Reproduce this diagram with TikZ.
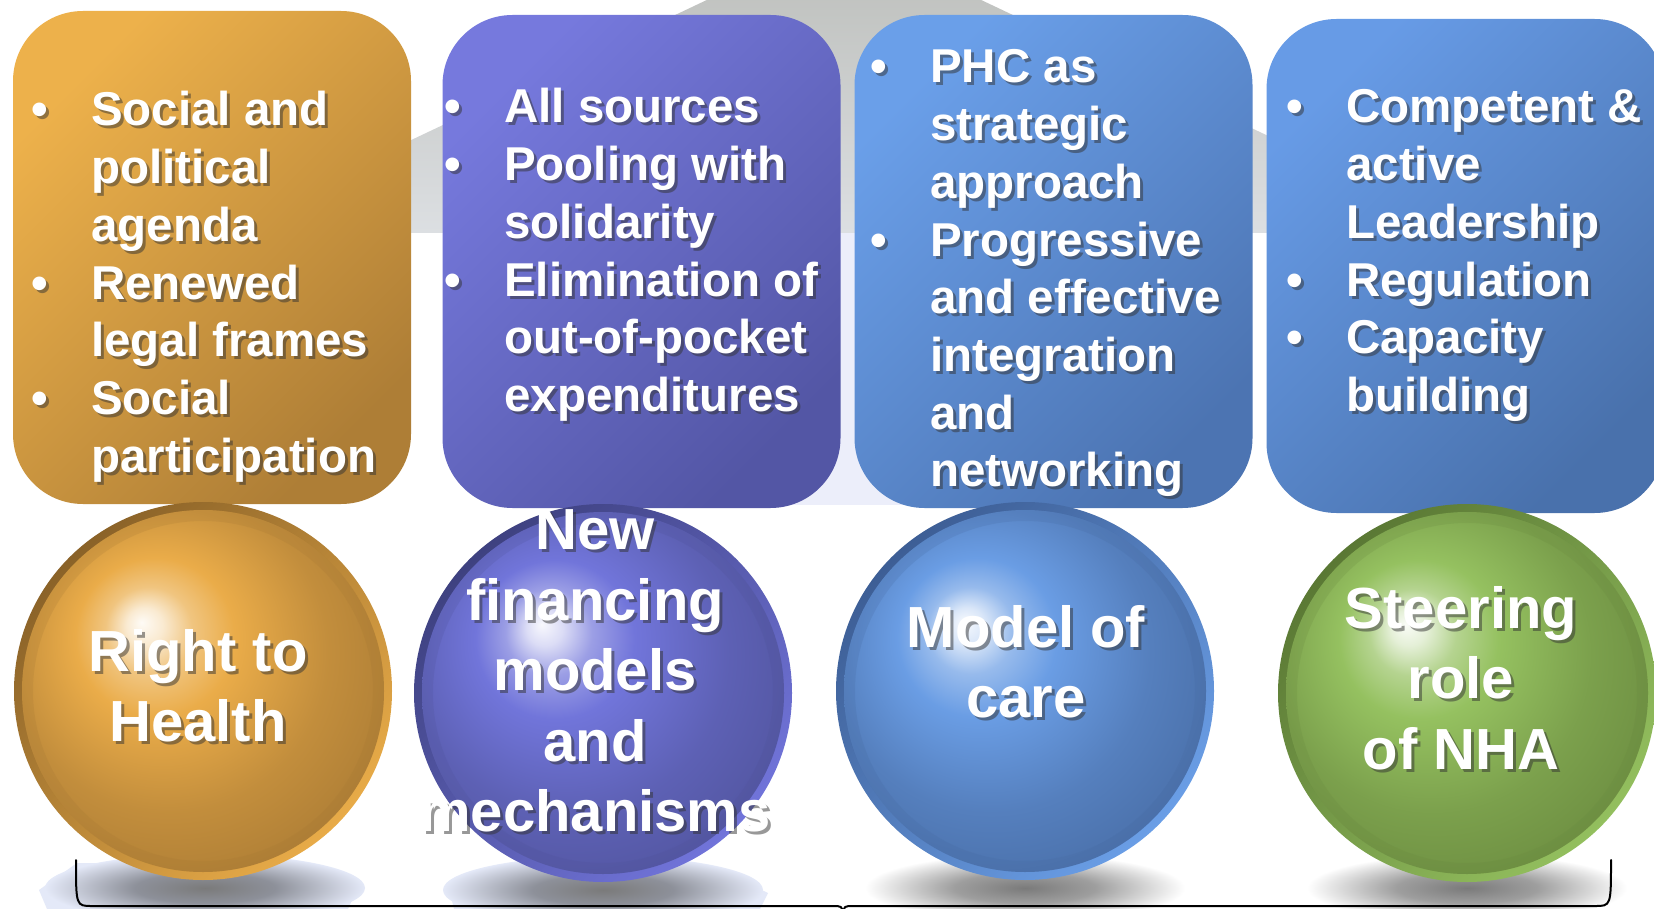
\documentclass[tikz,border=0pt]{standalone}
\usepackage{fontspec}
\setmainfont{Liberation Sans}

\definecolor{roofgrey}{HTML}{BABCB8}
\definecolor{rooflight}{HTML}{DCDFE2}
\definecolor{haze}{HTML}{E4E9F8}
\definecolor{gapblue}{HTML}{ECEEFA}
% panels
\definecolor{orangeA}{HTML}{EDB14B}
\definecolor{orangeB}{HTML}{AE7E36}
\definecolor{purpleA}{HTML}{7679DD}
\definecolor{purpleB}{HTML}{5356A5}
\definecolor{blueA}{HTML}{6A9FE9}
\definecolor{blueB}{HTML}{4C74B2}
\definecolor{skyA}{HTML}{679BE6}
\definecolor{skyB}{HTML}{4971AC}
% balls
\definecolor{orangeRim}{HTML}{8A6228}
\definecolor{orangeRimL}{HTML}{E8AB48}
\definecolor{orangeL}{HTML}{EAAC49}
\definecolor{orangeD}{HTML}{A27532}
\definecolor{purpleRim}{HTML}{3E4180}
\definecolor{purpleRimL}{HTML}{7174DA}
\definecolor{purpleL}{HTML}{7175DA}
\definecolor{purpleD}{HTML}{4D5096}
\definecolor{blueRim}{HTML}{3D5E95}
\definecolor{blueRimL}{HTML}{6A9EE6}
\definecolor{blueL}{HTML}{6A9DE4}
\definecolor{blueD}{HTML}{44679E}
\definecolor{greenRim}{HTML}{5A7834}
\definecolor{greenRimL}{HTML}{93BF5E}
\definecolor{greenL}{HTML}{95C160}
\definecolor{greenD}{HTML}{66853C}

% ball bodies: glow at the upper left, darker to the lower right
\newcommand{\declareball}[3]{%
  \pgfdeclareradialshading{#1}{\pgfpoint{-8.5bp}{9.5bp}}{color(0bp)=(white!95!#2); color(2.5bp)=(white!75!#2); color(6bp)=(white!30!#2); color(11bp)=(#2); color(22bp)=(#2!45!#3); color(37bp)=(#3); color(50bp)=(#3)}}
\declareball{orangeball}{orangeL}{orangeD}
\declareball{purpleball}{purpleL}{purpleD}
\declareball{blueball}{blueL}{blueD}
\declareball{greenball}{greenL}{greenD}
\pgfdeclareradialshading{shadowwhite}{\pgfpointorigin}{color(0bp)=(black!52); color(11bp)=(black!38); color(25bp)=(white); color(50bp)=(white)}
\pgfdeclareradialshading{shadowhaze}{\pgfpointorigin}{color(0bp)=(black!52); color(11bp)=(black!38!haze); color(25bp)=(haze); color(50bp)=(haze)}

\tikzset{
  panel/.style={rounded corners=70pt, minimum width=398pt, minimum height=493pt, inner sep=0pt},
  boxshade/.style 2 args={top color=#1, bottom color=#2, shading angle=45},
  listtxt/.style={anchor=base west, inner sep=0pt, font=\fontsize{47.5}{57.7}\selectfont\bfseries},
  balltxt/.style={align=center, inner sep=0pt, font=\fontsize{58}{70.5}\selectfont\bfseries},
  brace/.style={line width=2pt, line cap=round, line join=round},
}

\newcommand{\itm}{\makebox[53pt][l]{\hspace{-7pt}\textbullet}}
% #1 style, #2 name, #3 position, #4 text
\newcommand{\shadowtext}[4]{%
  \node[#1, text=black!80, opacity=.5] at ([shift={(3,3)}]#3) {#4};
  \node[#1, text=white] (#2) at (#3) {#4};}
% #1 centre, #2 rim dark, #3 rim light, #4 body shading, #5 body dark
\newcommand{\ball}[5]{%
  \shade[top color=#2, bottom color=#3, shading angle=45] (#1) circle (189);
  \shade[shading=#4] (#1) circle (181);
  \draw[#5, opacity=.2, line width=11pt] (#1) circle (175.5);}

\begin{document}
\begin{tikzpicture}[x=1pt,y=-1pt]
\useasboundingbox (0,0) rectangle (1654,909);
\clip (0,0) rectangle (1654,909);
\fill[white] (0,0) rectangle (1654,909);

% roof behind the panels
\shade[top color=roofgrey, bottom color=rooflight] (844,-65) -- (215,233) -- (1473,233) -- cycle;
\fill[gapblue] (790,233) rectangle (905,505);

% panels
\node[panel, boxshade={orangeA}{orangeB}] (agendabox) at (212,257.5) {};
\node[panel, boxshade={purpleA}{purpleB}] (poolbox) at (641.5,261.5) {};
\node[panel, boxshade={blueA}{blueB}] (phcbox) at (1053.5,261.5) {};
\node[panel, boxshade={skyA}{skyB}, minimum height=494pt] (leadbox) at (1465.5,266) {};

% haze and shadows under the balls
\fill[haze] (47,909) -- (39,890) -- (77,863) -- (310,863) -- (358,887) -- (348,909) -- cycle;
\fill[haze] (454,909) -- (450,893) -- (500,867) -- (713,867) -- (768,893) -- (760,909) -- cycle;
\shade[shading=shadowhaze] (205,888) ellipse (160 and 34);
\shade[shading=shadowhaze] (603,890) ellipse (160 and 34);
\shade[shading=shadowwhite] (1025,888) ellipse (160 and 34);
\shade[shading=shadowwhite] (1467,888) ellipse (160 and 34);

% balls
\coordinate (rightc) at (203,691);
\coordinate (financec) at (603,693);
\coordinate (carec) at (1025,691);
\coordinate (steerc) at (1467,693);
\ball{rightc}{orangeRim}{orangeRimL}{orangeball}{orangeD}
\ball{financec}{purpleRim}{purpleRimL}{purpleball}{purpleD}
\ball{carec}{blueRim}{blueRimL}{blueball}{blueD}
\ball{steerc}{greenRim}{greenRimL}{greenball}{greenD}

% panel texts
\coordinate (agendapos) at (38,126);
\coordinate (poolpos) at (451,123);
\coordinate (phcpos) at (877,83);
\coordinate (leadpos) at (1293,123);
\shadowtext{listtxt}{agendatxt}{agendapos}{\begin{tabular}[t]{@{}l@{}l@{}}\itm&Social and\\&political\\&agenda\\\itm&Renewed\\&legal frames\\\itm&Social\\&participation\end{tabular}}
\shadowtext{listtxt}{pooltxt}{poolpos}{\begin{tabular}[t]{@{}l@{}l@{}}\itm&All sources\\\itm&Pooling with\\&solidarity\\\itm&Elimination of\\&out-of-pocket\\&expenditures\end{tabular}}
\shadowtext{listtxt}{phctxt}{phcpos}{\begin{tabular}[t]{@{}l@{}l@{}}\itm&PHC as\\&strategic\\&approach\\\itm&Progressive\\&and effective\\&integration\\&and\\&networking\end{tabular}}
\shadowtext{listtxt}{leadtxt}{leadpos}{\begin{tabular}[t]{@{}l@{}l@{}}\itm&Competent \&\\&active\\&Leadership\\\itm&Regulation\\\itm&Capacity\\&building\end{tabular}}

% ball texts
\coordinate (rightpos) at (198,686);
\coordinate (financepos) at (595,671);
\coordinate (carepos) at (1026,662);
\coordinate (steerpos) at (1461,678);
\shadowtext{balltxt}{righttxt}{rightpos}{Right to\\Health}
\shadowtext{balltxt}{financetxt}{financepos}{New\\financing\\models\\and\\mechanisms}
\shadowtext{balltxt}{caretxt}{carepos}{Model of\\care}
\shadowtext{balltxt}{steertxt}{steerpos}{Steering\\role\\of NHA}

% bracket
\coordinate (braceL) at (76,860);
\coordinate (braceR) at (1611,860);
\draw[brace] (braceL) .. controls (76,906) .. (92,906) -- (832,906) .. controls (842,906) .. (843,914) .. controls (844,906) .. (854,906) -- (1595,906) .. controls (1611,906) .. (braceR);
\end{tikzpicture}
\end{document}
